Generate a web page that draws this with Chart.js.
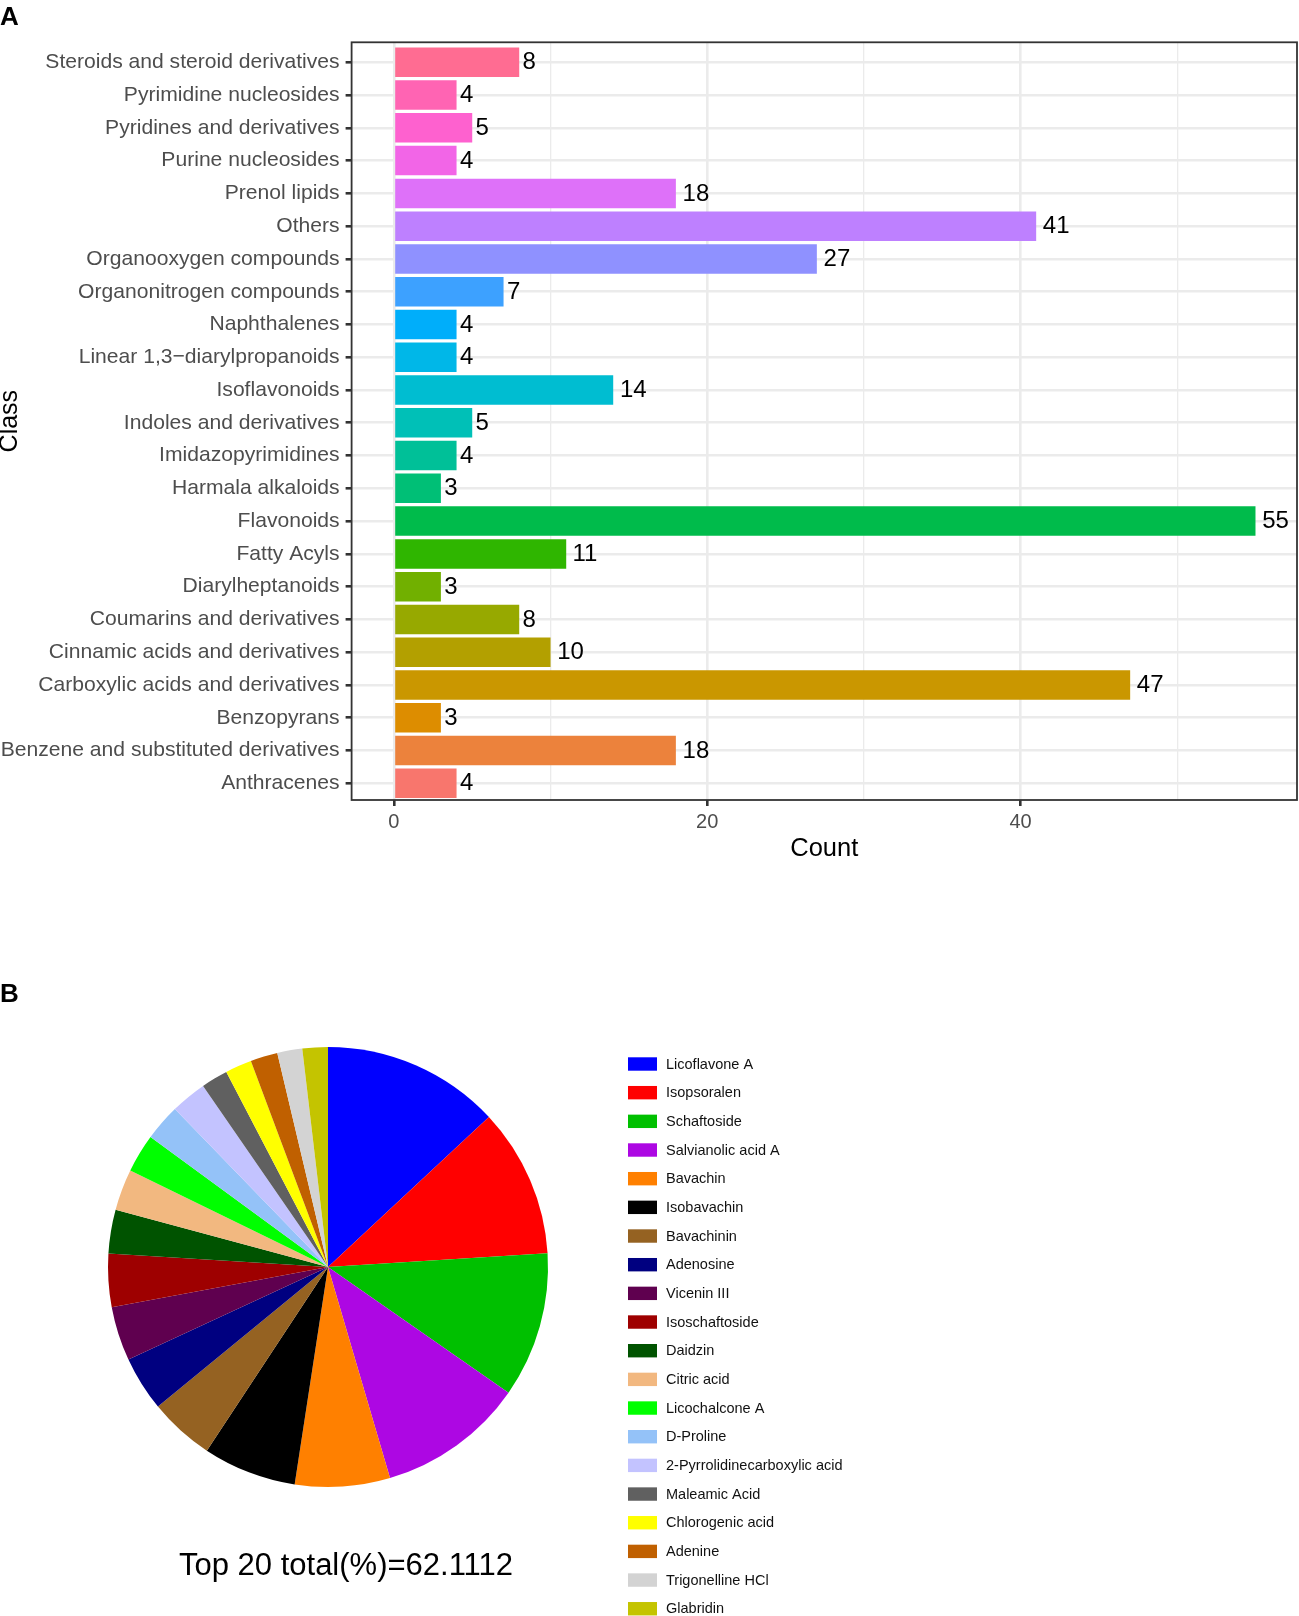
<!DOCTYPE html>
<html>
<head>
<meta charset="utf-8">
<script src="https://cdn.jsdelivr.net/npm/chart.js@4.4.1/dist/chart.umd.min.js"></script>
<style>
    body { margin: 0; background: #fff; width: 1299px; height: 1616px; position: relative; overflow: hidden; }
    canvas { position: absolute; left: 0; }
    #classChart { top: 0; }
    #topChart { top: 940px; }
</style>
</head>
<body>
<canvas id="classChart" width="1299" height="880"></canvas>
<canvas id="topChart" width="1299" height="676"></canvas>
<script>
// Panel A data (top to bottom as shown)
const classNames = [
    'Steroids and steroid derivatives', 'Pyrimidine nucleosides', 'Pyridines and derivatives',
    'Purine nucleosides', 'Prenol lipids', 'Others', 'Organooxygen compounds',
    'Organonitrogen compounds', 'Naphthalenes', 'Linear 1,3\u2212diarylpropanoids', 'Isoflavonoids',
    'Indoles and derivatives', 'Imidazopyrimidines', 'Harmala alkaloids', 'Flavonoids',
    'Fatty Acyls', 'Diarylheptanoids', 'Coumarins and derivatives', 'Cinnamic acids and derivatives',
    'Carboxylic acids and derivatives', 'Benzopyrans', 'Benzene and substituted derivatives', 'Anthracenes'
];
const classCounts = [8, 4, 5, 4, 18, 41, 27, 7, 4, 4, 14, 5, 4, 3, 55, 11, 3, 8, 10, 47, 3, 18, 4];
const countMajorTicks = [0, 20, 40];
const countMinorTicks = [10, 30, 50];

// Panel B data
const compoundNames = [
    'Licoflavone A', 'Isopsoralen', 'Schaftoside', 'Salvianolic acid A', 'Bavachin', 'Isobavachin',
    'Bavachinin', 'Adenosine', 'Vicenin III', 'Isoschaftoside', 'Daidzin', 'Citric acid',
    'Licochalcone A', 'D-Proline', '2-Pyrrolidinecarboxylic acid', 'Maleamic Acid',
    'Chlorogenic acid', 'Adenine', 'Trigonelline HCl', 'Glabridin'
];
const compoundPercents = [8.11, 6.80, 6.63, 6.69, 4.33, 4.26, 2.97, 2.50, 2.47, 2.43,
    2.00, 1.88, 1.76, 1.67, 1.64, 1.22, 1.21, 1.24, 1.14, 1.16];
const topTotal = '62.1112';

const pieColors = ['#0000FF', '#FF0000', '#00C000', '#AD07E3', '#FF8000', '#000000', '#956222',
    '#000080', '#5F004F', '#9E0000', '#005300', '#F2B880', '#00FF00', '#94C2F8', '#C3C3FF',
    '#606060', '#FFFF00', '#C06000', '#D3D3D3', '#C4C400'];

const FONT = '"Liberation Sans", Arial, Helvetica, sans-serif';

// ggplot-like hue palette (hcl, c=100, l=65)
function hcl(h, c, l) {
    const rad = h * Math.PI / 180;
    const U = c * Math.cos(rad), V = c * Math.sin(rad);
    const Xn = 95.047, Yn = 100, Zn = 108.883;
    const un = 4 * Xn / (Xn + 15 * Yn + 3 * Zn), vn = 9 * Yn / (Xn + 15 * Yn + 3 * Zn);
    const Y = Yn * Math.pow((l + 16) / 116, 3);
    const u = U / (13 * l) + un, v = V / (13 * l) + vn;
    const X = 9 * Y * u / (4 * v);
    const Z = -X / 3 - 5 * Y + 3 * Y / v;
    const lin = [
        3.240479 * X - 1.537150 * Y - 0.498535 * Z,
        -0.969256 * X + 1.875992 * Y + 0.041556 * Z,
        0.055648 * X - 0.204043 * Y + 1.057311 * Z
    ].map(function (t) {
        t = t / 100;
        t = t > 0.0031308 ? 1.055 * Math.pow(t, 1 / 2.4) - 0.055 : 12.92 * t;
        return Math.round(Math.min(1, Math.max(0, t)) * 255);
    });
    return 'rgb(' + lin.join(',') + ')';
}
const n = classNames.length;
const classColors = classNames.map(function (_, i) {
    const k = n - 1 - i; // alphabetical level (bottom = first)
    return hcl(15 + k * 360 / n, 100, 65);
});

// value labels + panel border + panel letter
const barExtras = {
    id: 'barExtras',
    afterDatasetsDraw(chart) {
        const ctx = chart.ctx;
        const area = chart.chartArea;
        ctx.save();
        ctx.font = '24px ' + FONT;
        ctx.fillStyle = '#000';
        ctx.textAlign = 'left';
        ctx.textBaseline = 'middle';
        chart.getDatasetMeta(0).data.forEach(function (bar, i) {
            const txt = String(classCounts[i]);
            const w = ctx.measureText(txt).width;
            ctx.fillText(txt, bar.x + 0.25 * w, bar.y + 0.5); // like hjust = -0.25
        });
        ctx.strokeStyle = '#333333';
        ctx.lineWidth = 1.8;
        ctx.strokeRect(area.left, area.top, area.right - area.left, area.bottom - area.top);
        ctx.font = 'bold 26px ' + FONT;
        ctx.textBaseline = 'alphabetic';
        ctx.fillText('A', 0, 25);
        ctx.restore();
    }
};

new Chart(document.getElementById('classChart'), {
    type: 'bar',
    data: {
        datasets: [{
            data: classCounts.map(function (v, i) { return { x: v, y: i }; }),
            backgroundColor: classColors,
            borderWidth: 0,
            categoryPercentage: 1,
            barPercentage: 0.9
        }]
    },
    options: {
        indexAxis: 'y',
        responsive: false,
        animation: false,
        events: [],
        layout: { padding: { top: 42.3, right: 2, bottom: 10, left: 0 } },
        plugins: { legend: { display: false }, tooltip: { enabled: false } },
        scales: {
            x: {
                type: 'linear',
                min: -2.7,
                max: 57.65,
                afterBuildTicks: function (scale) {
                    scale.ticks = countMajorTicks.concat(countMinorTicks)
                        .sort(function (a, b) { return a - b; })
                        .map(function (v) { return { value: v }; });
                },
                afterFit: function (scale) { scale.height = 70; },
                border: { display: false },
                grid: {
                    color: '#EBEBEB',
                    lineWidth: function (c) { return c.tick && countMajorTicks.includes(c.tick.value) ? 2.6 : 1.3; },
                    tickColor: function (c) { return c.tick && countMajorTicks.includes(c.tick.value) ? '#333333' : 'rgba(0,0,0,0)'; },
                    tickLength: 6,
                    tickWidth: 2.6
                },
                ticks: {
                    autoSkip: false,
                    maxRotation: 0,
                    padding: 4,
                    color: '#4D4D4D',
                    font: { family: FONT, size: 20 },
                    callback: function (value) { return countMajorTicks.includes(value) ? String(value) : ''; }
                },
                title: {
                    display: true,
                    text: 'Count',
                    color: '#000',
                    font: { family: FONT, size: 25.5, lineHeight: 1 },
                    padding: { top: 0, bottom: 8 }
                }
            },
            y: {
                type: 'linear',
                reverse: true,
                offset: false,
                min: -0.61,
                max: n - 0.49,
                afterBuildTicks: function (scale) {
                    scale.ticks = classNames.map(function (_, i) { return { value: i }; });
                },
                afterFit: function (scale) { scale.width = 351.6; },
                border: { display: false },
                grid: {
                    offset: false,
                    color: '#EBEBEB',
                    lineWidth: 2.6,
                    tickColor: '#333333',
                    tickLength: 6,
                    tickWidth: 2.6
                },
                ticks: {
                    autoSkip: false,
                    padding: 6,
                    color: '#4D4D4D',
                    font: { family: FONT, size: 21.1 },
                    callback: function (value, index) { return classNames[index]; }
                },
                title: {
                    display: true,
                    text: 'Class',
                    color: '#000',
                    font: { family: FONT, size: 25, lineHeight: 0.8 },
                    padding: { top: 0.3, bottom: 0 }
                }
            }
        }
    },
    plugins: [barExtras]
});

// legend, caption and panel letter for the pie
const pieExtras = {
    id: 'pieExtras',
    afterDraw(chart) {
        const ctx = chart.ctx;
        const colors = chart.data.datasets[0].backgroundColor;
        ctx.save();
        ctx.textAlign = 'left';
        ctx.textBaseline = 'middle';
        ctx.font = '14.5px ' + FONT;
        chart.data.labels.forEach(function (label, i) {
            const yc = 124 + i * 28.67;
            ctx.fillStyle = colors[i];
            ctx.fillRect(628, yc - 6.7, 29, 13.4);
            ctx.fillStyle = '#111';
            ctx.fillText(label, 666, yc + 0.5);
        });
        ctx.textAlign = 'center';
        ctx.font = '31px ' + FONT;
        ctx.fillStyle = '#000';
        ctx.fillText('Top 20 total(%)=' + topTotal, 346, 626);
        ctx.textAlign = 'left';
        ctx.textBaseline = 'alphabetic';
        ctx.font = 'bold 26px ' + FONT;
        ctx.fillText('B', 0, 62);
        ctx.restore();
    }
};

new Chart(document.getElementById('topChart'), {
    type: 'pie',
    data: {
        labels: compoundNames,
        datasets: [{
            data: compoundPercents,
            backgroundColor: pieColors,
            borderWidth: 0,
            hoverOffset: 0,
            offset: 0
        }]
    },
    options: {
        responsive: false,
        animation: false,
        events: [],
        layout: { padding: { top: 107, right: 751, bottom: 129, left: 108 } },
        plugins: { legend: { display: false }, tooltip: { enabled: false } }
    },
    plugins: [pieExtras]
});
</script>
</body>
</html>
